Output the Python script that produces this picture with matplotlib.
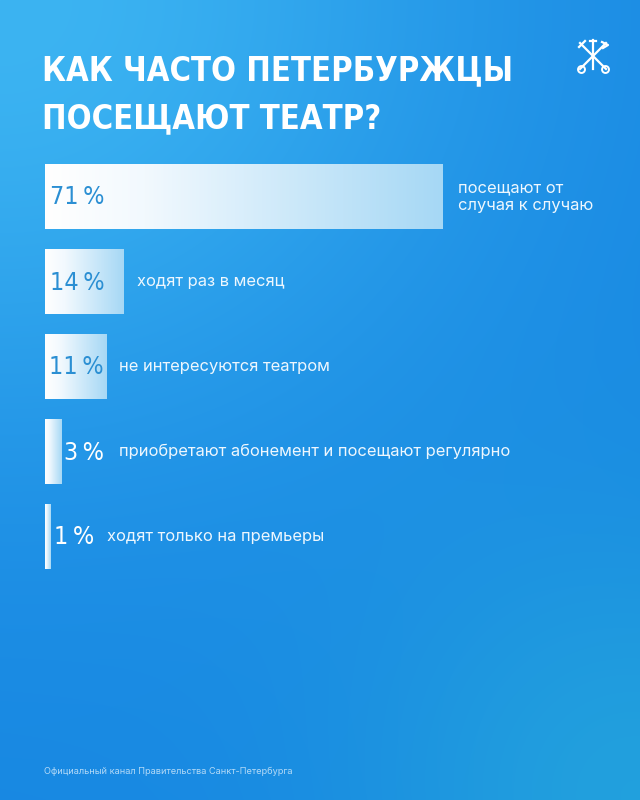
import matplotlib
matplotlib.use("Agg")
import matplotlib.pyplot as plt
import numpy as np
from matplotlib.colors import LinearSegmentedColormap, to_rgb

# ---------------------------------------------------------------------------
# Data
# ---------------------------------------------------------------------------
title_lines = ["КАК ЧАСТО ПЕТЕРБУРЖЦЫ", "ПОСЕЩАЮТ ТЕАТР?"]
shares = [71, 14, 11, 3, 1]
pct_labels = ["71\u2009%", "14\u2009%", "11\u2009%", "3\u2009%", "1\u2009%"]
answers = [
    "посещают от\nслучая к случаю",
    "ходят раз в месяц",
    "не интересуются театром",
    "приобретают абонемент и посещают регулярно",
    "ходят только на премьеры",
]
footer = "Официальный канал Правительства Санкт-Петербурга"

# layout (pixels, 640x800 canvas)
W, H = 640, 800
X0, PX_PER_PCT = 45, 5.6
ROW0, ROW_STEP, BAR_H = 196.5, 85, 65
pct_right = [105, 105, 104, 104, 94]
pct_color = ["#2b8fd3", "#2b8fd3", "#2b8fd3", "white", "white"]
answer_x = [458, 137, 119, 119, 107]

fig = plt.figure(figsize=(6.4, 8), dpi=100)

# --- background gradient ---
bg = fig.add_axes([0, 0, 1, 1], zorder=0)
yy, xx = np.mgrid[0:H, 0:W] / np.array([H, W])[:, None, None]
base = np.array(to_rgb("#1787e2"))
tl = np.array(to_rgb("#3cb4f2"))
br = np.array(to_rgb("#24a6dc"))
w1 = np.exp(-((xx / 0.75) ** 2 + (yy / 0.55) ** 2))
w2 = np.exp(-(((1 - xx) / 0.45) ** 2 + ((1 - yy) / 0.35) ** 2)) * 0.8
img = base[None, None, :] * (1 - w1 - w2)[..., None] \
    + tl[None, None, :] * w1[..., None] + br[None, None, :] * w2[..., None]
img = np.clip(img, 0, 1)
bg.imshow(img, extent=(0, W, H, 0), aspect="auto", interpolation="bilinear")
bg.set_xlim(0, W)
bg.set_ylim(H, 0)
bg.axis("off")

# --- bars (x in percent) ---
top_px = ROW0 - ROW_STEP / 2
bot_px = ROW0 + ROW_STEP * (len(shares) - 0.5)
x_span = 100 * PX_PER_PCT
ax = fig.add_axes([X0 / W, 1 - bot_px / H, x_span / W, (bot_px - top_px) / H], zorder=1)
ax.patch.set_alpha(0)
ax.axis("off")

bar_cmap = LinearSegmentedColormap.from_list(
    "bar", [(0, "#ffffff"), (0.25, "#f2f9fe"), (1, "#a6d8f5")])
grad = np.linspace(0, 1, 256)[None, :]
h = BAR_H / ROW_STEP
bars = ax.barh(range(len(shares)), shares, height=h, color="none", linewidth=0)
for i, (b, v) in enumerate(zip(bars, shares)):
    im = ax.imshow(grad, cmap=bar_cmap, extent=(0, v, i + h / 2, i - h / 2),
                   aspect="auto", interpolation="bilinear")
    im.set_clip_path(b)
ax.set_xlim(0, 100)
ax.set_ylim(len(shares) - 0.5, -0.5)

# --- text overlay (pixel coords) ---
ov = fig.add_axes([0, 0, 1, 1], zorder=2)
ov.patch.set_alpha(0)
ov.set_xlim(0, W)
ov.set_ylim(H, 0)
ov.axis("off")

for k, line in enumerate(title_lines):
    ov.text(42, 80 + 48 * k, line, fontsize=23.5, fontweight="bold",
            family="DejaVu Sans", fontstretch="condensed", color="white",
            va="baseline", ha="left")

for i in range(len(shares)):
    yc = ROW0 + ROW_STEP * i
    ov.text(pct_right[i], yc + 1, pct_labels[i], fontsize=18, family="DejaVu Sans",
            fontstretch="condensed", color=pct_color[i], va="center", ha="right")
    ov.text(answer_x[i], yc, answers[i], fontsize=11.9, family="Inter",
            color="#eef7fe", va="center", ha="left", linespacing=1.25)

ov.text(44, 771, footer, fontsize=6.6, family="Inter", color="#cfe8fb",
        alpha=0.85, va="center", ha="left")

# --- emblem (decorative) ---
cx, cy, s = 593, 56, 13
lw = 1.6
ov.plot([cx - s, cx + s], [cy - s, cy + s], color="white", lw=lw)
ov.plot([cx + s, cx - s], [cy - s, cy + s], color="white", lw=lw)
ov.plot([cx, cx], [cy - s - 3, cy + s], color="white", lw=lw)
ov.plot([cx - s + 1, cx + s - 1], [cy + s, cy + s], ls="none", marker="o",
        ms=5, mfc="none", mec="white", mew=1.4)
ov.plot([cx - s - 1, cx - s + 5], [cy - s + 4, cy - s - 2], color="white", lw=lw)
ov.plot([cx + s - 4, cx + s + 2, cx + s - 3], [cy - s - 1, cy - s + 2, cy - s + 5],
        color="white", lw=lw)
ov.plot([cx - 3, cx + 3], [cy - s - 2, cy - s - 2], color="white", lw=lw)

fig.savefig("out.png", dpi=100)
